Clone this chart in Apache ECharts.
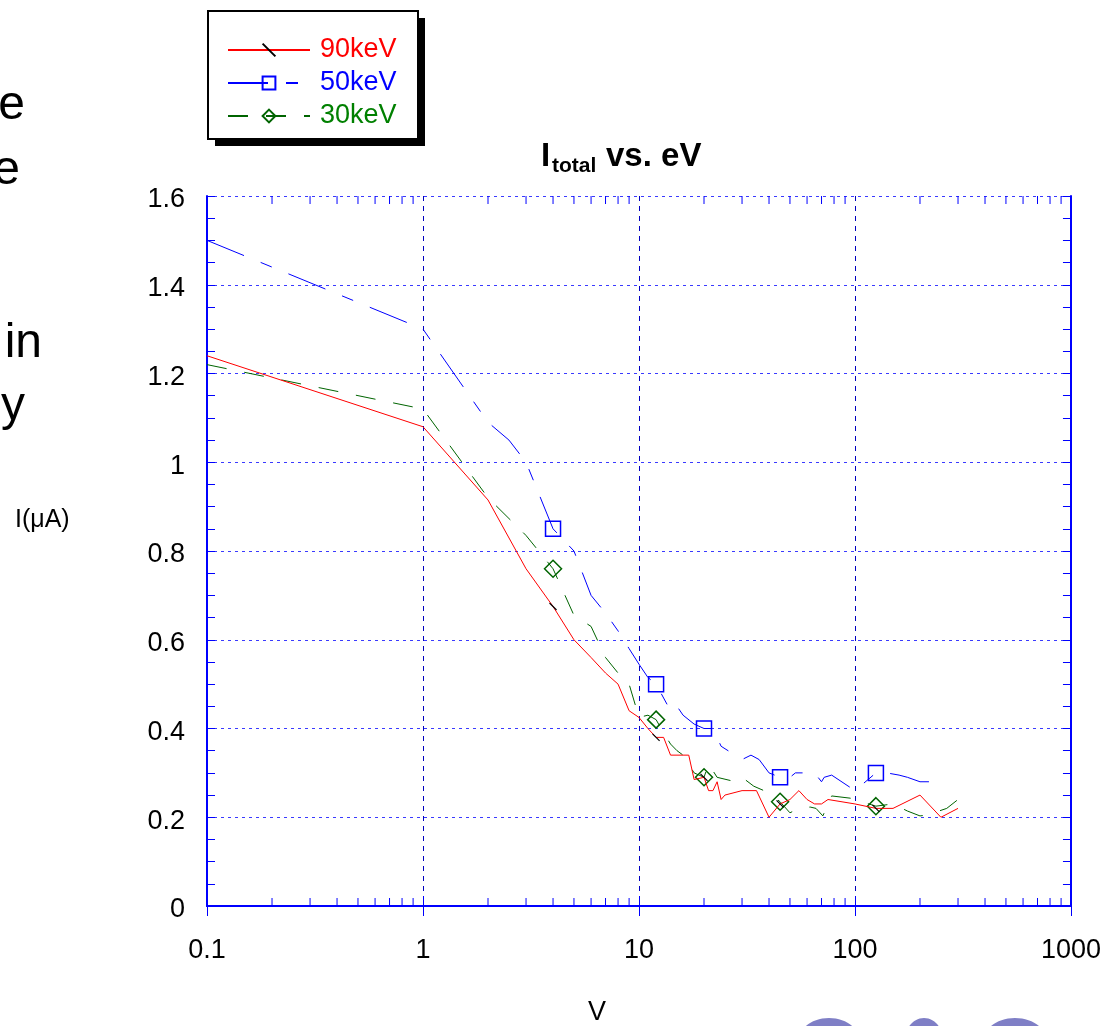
<!DOCTYPE html>
<html>
<head>
<meta charset="utf-8">
<script src="https://cdn.jsdelivr.net/npm/echarts@6/dist/echarts.min.js"></script>
<style>
html,body{margin:0;padding:0;background:#fff;}
#chart{width:1104px;height:1026px;}
</style>
</head>
<body>
<div id="chart"></div>
<script>
// ---- data ----
const seriesNames = ['90keV', '50keV', '30keV'];

const x90 = [0.1, 1, 2, 3, 4, 5, 6, 7, 8, 9, 10, 11, 12, 13, 14, 17, 18, 20, 21, 22, 23, 24, 25, 30, 35, 40, 45, 50, 55, 60, 65, 70, 75, 100, 125, 150, 200, 250, 300];
const y90 = [1.24, 1.08, 0.915, 0.76, 0.675, 0.60, 0.56, 0.525, 0.50, 0.44, 0.425, 0.40, 0.38, 0.38, 0.34, 0.34, 0.285, 0.29, 0.26, 0.26, 0.28, 0.24, 0.25, 0.26, 0.26, 0.20, 0.23, 0.24, 0.26, 0.24, 0.23, 0.23, 0.24, 0.23, 0.22, 0.22, 0.25, 0.20, 0.22];

const x50 = [0.1, 1, 2, 2.5, 3, 4, 5, 6, 7, 8, 9, 10, 11, 12, 14, 15, 16, 18, 20, 22, 24, 30, 33, 36, 40, 45, 50, 53, 65, 70, 72, 78, 100, 115, 125, 140, 160, 175, 200, 260];
const y50 = [1.50, 1.30, 1.09, 1.05, 1.00, 0.85, 0.80, 0.70, 0.66, 0.62, 0.58, 0.545, 0.515, 0.50, 0.44, 0.45, 0.43, 0.41, 0.40, 0.40, 0.36, 0.33, 0.34, 0.33, 0.30, 0.29, 0.29, 0.30, 0.30, 0.28, 0.29, 0.295, 0.26, 0.285, 0.30, 0.30, 0.295, 0.29, 0.28, 0.28];

const x30 = [0.1, 1, 2, 3, 4, 5, 6, 7, 8, 9, 10, 11, 12, 13, 14, 15, 16, 18, 20, 21, 23, 28, 30, 34, 40, 45, 50, 55, 62, 66, 71, 78, 95, 125, 150, 175, 200, 216, 266, 300];
const y30 = [1.22, 1.12, 0.92, 0.835, 0.76, 0.655, 0.63, 0.56, 0.525, 0.50, 0.425, 0.43, 0.42, 0.39, 0.365, 0.35, 0.34, 0.30, 0.29, 0.32, 0.29, 0.28, 0.29, 0.27, 0.255, 0.235, 0.21, 0.22, 0.223, 0.22, 0.203, 0.248, 0.243, 0.225, 0.23, 0.214, 0.203, 0.205, 0.22, 0.24];

// x positions that carry a marker symbol
const markerX = [4, 12, 20, 45, 125];

// axis ticks
const xMin = 0.1, xMax = 1000;
const yMin = 0, yMax = 1.6, yStep = 0.2;
const xMinorTicks = [];
for (let d = 0.1; d < 999; d *= 10) {
  for (let k = 2; k <= 9; k++) xMinorTicks.push(+(d * k).toPrecision(3));
}

// ---- chart ----
const FONT = '"Liberation Sans", Arial, sans-serif';
const RED = '#ff0000', BLUE = '#0000ff', GREEN = '#006400';
const AX = '#0000ff';

function build(xs, ys, sym) {
  return xs.map((x, i) => ({
    value: [x, ys[i]],
    symbol: markerX.indexOf(x) >= 0 ? sym : 'none'
  }));
}

const chart = echarts.init(document.getElementById('chart'), null, {renderer: 'canvas'});

const option = {
  animation: false,
  backgroundColor: '#ffffff',
  textStyle: {fontFamily: FONT},
  grid: {left: 207, right: 33, top: 196, bottom: 120, containLabel: false},
  legend: {
    orient: 'vertical',
    left: 208, top: 11,
    padding: [25, 22, 10, 19],
    itemWidth: 82, itemHeight: 16, itemGap: 5,
    backgroundColor: 'rgba(0,0,0,0)',
    borderWidth: 0,
    textStyle: {fontSize: 27, fontFamily: FONT, lineHeight: 28, padding: [0, 0, 0, 5]},
    data: [
      {name: '90keV', textStyle: {color: RED}},
      {name: '50keV', textStyle: {color: BLUE}},
      {name: '30keV', textStyle: {color: '#008000'}}
    ]
  },
  xAxis: [{
    type: 'log', logBase: 10, min: xMin, max: xMax, position: 'bottom',
    axisLine: {show: true, lineStyle: {color: AX, width: 2}},
    axisTick: {show: true, inside: true, length: 10, lineStyle: {color: AX}},
    axisLabel: {show: true, color: '#000', fontSize: 27, fontFamily: FONT, margin: 31,
      formatter: v => String(+(+v).toPrecision(3))},
    splitLine: {show: true, lineStyle: {color: '#0000c0', type: [5, 5], width: 1}}
  }, {
    type: 'log', logBase: 10, min: xMin, max: xMax, position: 'top',
    axisLine: {show: true, lineStyle: {color: AX, width: 2}},
    axisTick: {show: true, inside: true, length: 10, lineStyle: {color: AX}},
    axisLabel: {show: false},
    splitLine: {show: false}
  }],
  yAxis: [{
    type: 'value', min: yMin, max: yMax, interval: yStep, position: 'left',
    axisLine: {show: true, lineStyle: {color: AX, width: 2}},
    axisTick: {show: true, inside: true, length: 8, lineStyle: {color: AX}},
    minorTick: {show: true, splitNumber: 4, length: 8, lineStyle: {color: AX}},
    axisLabel: {show: true, color: '#000', fontSize: 27, fontFamily: FONT, margin: 22,
      formatter: v => '{a|' + v + '}',
      rich: {a: {fontSize: 27, fontFamily: FONT, color: '#000', padding: [8, 0, 0, 0]}}},
    splitLine: {show: true, lineStyle: {color: '#3a3aff', type: [3, 4], width: 1}}
  }, {
    type: 'value', min: yMin, max: yMax, interval: yStep, position: 'right',
    axisLine: {show: true, lineStyle: {color: AX, width: 2}},
    axisTick: {show: true, inside: true, length: 8, lineStyle: {color: AX}},
    minorTick: {show: true, splitNumber: 4, length: 8, lineStyle: {color: AX}},
    axisLabel: {show: false},
    splitLine: {show: false}
  }],
  series: [{
    name: 'minor-x',
    type: 'custom',
    xAxisIndex: 0, yAxisIndex: 0,
    silent: true,
    data: xMinorTicks.map(v => [v, yMin]),
    renderItem: function (params, api) {
      const x = api.value(0);
      const b = api.coord([x, yMin]);
      const t = api.coord([x, yMax]);
      return {
        type: 'group',
        children: [
          {type: 'line', shape: {x1: b[0], y1: b[1], x2: b[0], y2: b[1] - 8}, style: {stroke: AX, lineWidth: 1}},
          {type: 'line', shape: {x1: t[0], y1: t[1], x2: t[0], y2: t[1] + 8}, style: {stroke: AX, lineWidth: 1}}
        ]
      };
    }
  }, {
    name: '90keV', type: 'line',
    symbol: 'path://M0,0L10,10', symbolSize: 7,
    data: build(x90, y90, 'path://M0,0L10,10'),
    lineStyle: {color: RED, width: 1, type: 'solid'},
    itemStyle: {color: 'rgba(0,0,0,0)', borderColor: '#000', borderWidth: 1.2},
    emphasis: {disabled: true},
    z: 4
  }, {
    name: '50keV', type: 'line',
    symbol: 'rect', symbolSize: 15,
    data: build(x50, y50, 'rect'),
    lineStyle: {color: BLUE, width: 1, type: [40, 18, 12, 18]},
    itemStyle: {color: 'rgba(255,255,255,0)', borderColor: BLUE, borderWidth: 1.5},
    emphasis: {disabled: true},
    z: 3
  }, {
    name: '30keV', type: 'line',
    symbol: 'diamond', symbolSize: 17,
    data: build(x30, y30, 'diamond'),
    lineStyle: {color: GREEN, width: 1, type: [20, 18]},
    itemStyle: {color: 'rgba(255,255,255,0)', borderColor: GREEN, borderWidth: 1.5},
    emphasis: {disabled: true},
    z: 3
  }],
  graphic: [
    // legend box with drop shadow
    {type: 'rect', z: 0, shape: {x: 215, y: 18, width: 210, height: 128}, style: {fill: '#000'}},
    {type: 'rect', z: 0, shape: {x: 208, y: 11, width: 210, height: 128}, style: {fill: '#fff', stroke: '#000', lineWidth: 2}},
    // title
    {type: 'text', left: 541, top: 140, style: {text: 'I', fontSize: 33, fontWeight: 'bold', fontFamily: FONT, fill: '#000'}},
    {type: 'text', left: 552, top: 156, style: {text: 'total', fontSize: 21, fontWeight: 'bold', fontFamily: FONT, fill: '#000'}},
    {type: 'text', left: 606, top: 140, style: {text: 'vs. eV', fontSize: 33, fontWeight: 'bold', fontFamily: FONT, fill: '#000'}},
    // axis names
    {type: 'text', left: 15, top: 508, style: {text: 'I(μA)', fontSize: 25, fontFamily: FONT, fill: '#000'}},
    {type: 'text', left: 588, top: 999, style: {text: 'V', fontSize: 27, fontFamily: FONT, fill: '#000'}},
    // clipped slide text on the left edge
    {type: 'text', right: 1104 - 25, top: 82, style: {text: 'e', fontSize: 48, fontFamily: FONT, fill: '#000'}},
    {type: 'text', right: 1104 - 20, top: 147, style: {text: 'e', fontSize: 48, fontFamily: FONT, fill: '#000'}},
    {type: 'text', right: 1104 - 42, top: 320, style: {text: 'in', fontSize: 48, fontFamily: FONT, fill: '#000'}},
    {type: 'text', right: 1104 - 25, top: 383, style: {text: 'y', fontSize: 48, fontFamily: FONT, fill: '#000'}},
    // logos (cut off at bottom)
    {type: 'ellipse', shape: {cx: 829, cy: 1040, rx: 30, ry: 22}, style: {fill: '#2a2aa0', opacity: 0.6}},
    {type: 'ellipse', shape: {cx: 924, cy: 1040, rx: 19, ry: 22}, style: {fill: '#2a2aa0', opacity: 0.6}},
    {type: 'ellipse', shape: {cx: 1015, cy: 1040, rx: 31, ry: 22}, style: {fill: '#2a2aa0', opacity: 0.6}}
  ]
};
chart.setOption(option);
</script>
</body>
</html>
